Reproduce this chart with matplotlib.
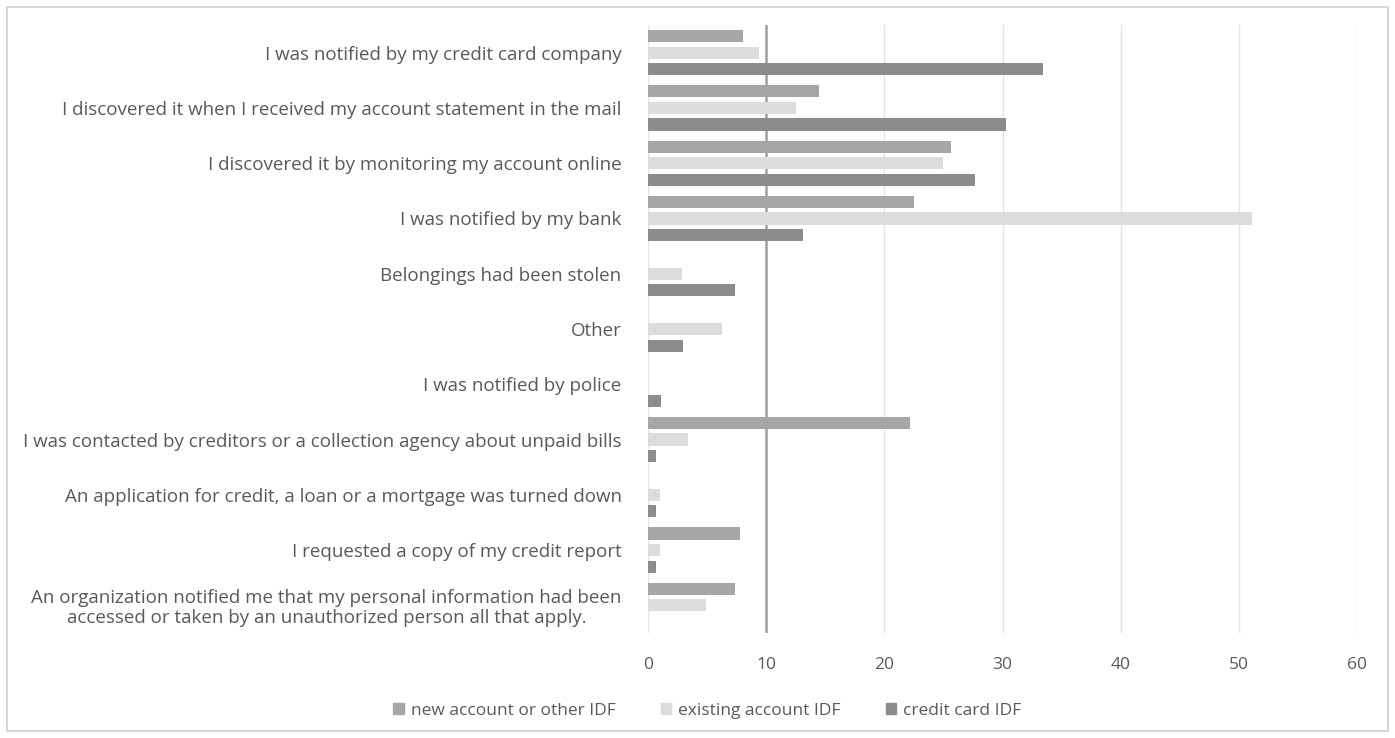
import matplotlib.pyplot as plt
import matplotlib.patches as mpatches
import numpy as np

plt.rcParams['font.family'] = ['Open Sans', 'DejaVu Sans']

# how the identity fraud was discovered, % of respondents by fraud type
categories = [
    "I was notified by my credit card company",
    "I discovered it when I received my account statement in the mail",
    "I discovered it by monitoring my account online",
    "I was notified by my bank",
    "Belongings had been stolen",
    "Other",
    "I was notified by police",
    "I was contacted by creditors or a collection agency about unpaid bills",
    "An application for credit, a loan or a mortgage was turned down",
    "I requested a copy of my credit report",
    "An organization notified me that my personal information had been\naccessed or taken by an unauthorized person all that apply.",
]
new_account = [8.0, 14.5, 25.6, 22.5, 0, 0, 0, 22.2, 0, 7.8, 7.4]
existing_account = [9.4, 12.5, 25.0, 51.1, 2.9, 6.3, 0, 3.4, 1.0, 1.0, 4.9]
credit_card = [33.4, 30.3, 27.7, 13.1, 7.4, 3.0, 1.1, 0.7, 0.7, 0.7, 0]

series = [
    ("new account or other IDF", new_account, "#a6a6a6"),
    ("existing account IDF", existing_account, "#dcdcdc"),
    ("credit card IDF", credit_card, "#8c8c8c"),
]

text_color = "#595959"

fig = plt.figure(figsize=(13.95, 7.38), dpi=100)
ax = fig.add_axes([0.4645, 0.1423, 0.5083, 0.8238])

y = np.arange(len(categories))
offsets = [-0.3, 0.0, 0.3]
for (name, vals, color), off in zip(series, offsets):
    ax.barh(y + off, vals, height=0.22, color=color, label=name, zorder=3)

ax.set_ylim(len(categories) - 0.5, -0.5)
ax.set_xlim(0, 60)
ax.set_xticks(range(0, 61, 10))
ax.set_yticks(y)
ax.set_yticklabels(categories, fontsize=13.5, color=text_color, ha="right",
                   multialignment="center", linespacing=1.15)

# vertical gridlines, the one at 10 drawn heavier
for xv in range(10, 61, 10):
    if xv == 10:
        ax.axvline(xv, color="#a0a0a0", lw=1.8, zorder=2)
    else:
        ax.axvline(xv, color="#e3e3e3", lw=1.0, zorder=1)
ax.axvline(0, color="#e3e3e3", lw=1.0, zorder=1)

for s in ax.spines.values():
    s.set_visible(False)
ax.tick_params(axis="both", length=0)
ax.tick_params(axis="x", labelsize=12.5, labelcolor=text_color, pad=17)
ax.tick_params(axis="y", pad=19)

handles = [mpatches.Patch(color=c, label=n) for n, _, c in series]
fig.legend(handles=handles, loc="center", bbox_to_anchor=(0.507, 0.037), ncol=3,
           frameon=False, fontsize=12.5, labelcolor=text_color,
           handlelength=0.6, handleheight=0.6, handletextpad=0.4, columnspacing=2.6)

# outer frame around the whole chart
fig.patches.append(mpatches.Rectangle((0.005, 0.009), 0.99, 0.982, transform=fig.transFigure,
                                      fill=False, edgecolor="#d0d0d0", lw=1.2))

fig.savefig("out.png", dpi=100)
